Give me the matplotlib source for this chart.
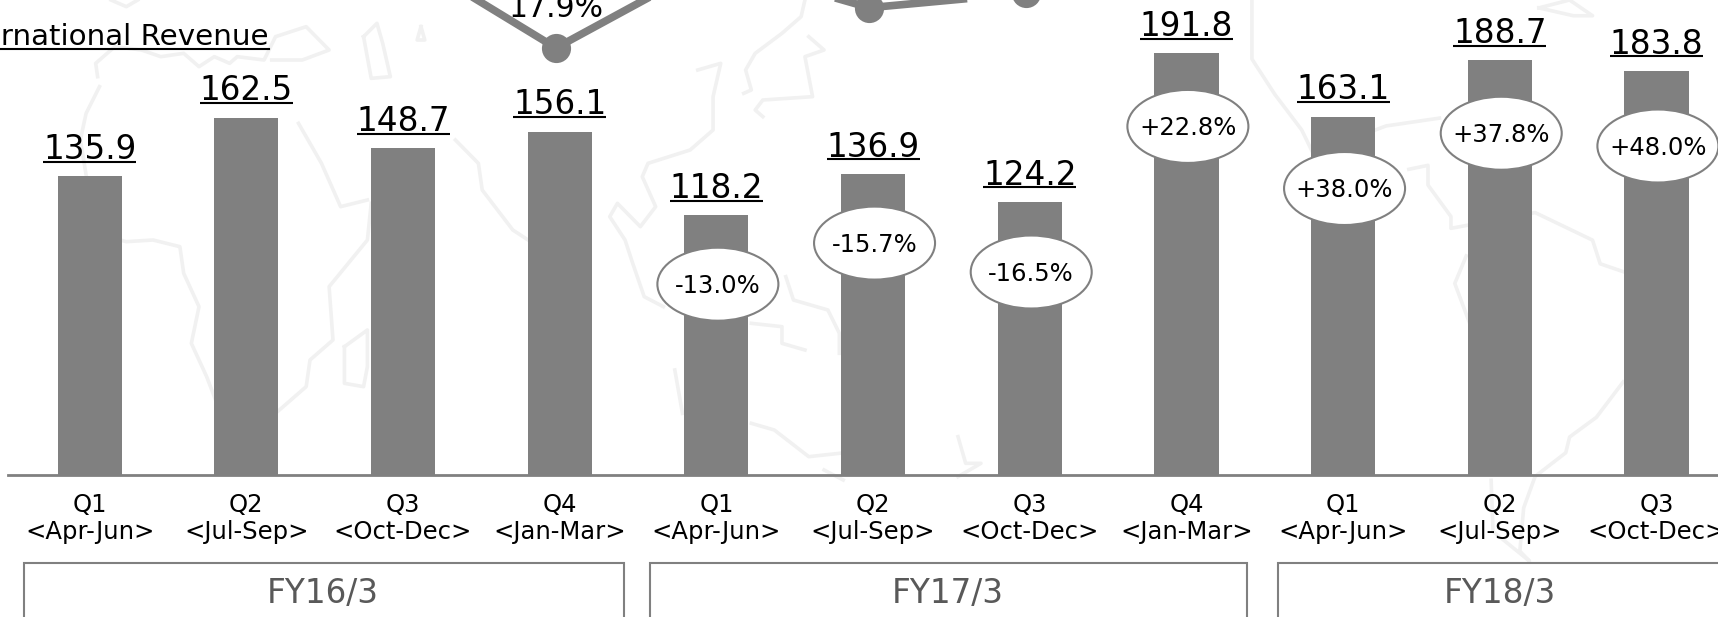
import matplotlib
matplotlib.use("Agg")
import matplotlib.pyplot as plt
from matplotlib.patches import Ellipse, Rectangle
from matplotlib.lines import Line2D

# chart data
quarters = ["Q1", "Q2", "Q3", "Q4", "Q1", "Q2", "Q3", "Q4", "Q1", "Q2", "Q3"]
months = ["<Apr-Jun>", "<Jul-Sep>", "<Oct-Dec>", "<Jan-Mar>",
          "<Apr-Jun>", "<Jul-Sep>", "<Oct-Dec>", "<Jan-Mar>",
          "<Apr-Jun>", "<Jul-Sep>", "<Oct-Dec>"]
revenue = [135.9, 162.5, 148.7, 156.1, 118.2, 136.9, 124.2, 191.8, 163.1, 188.7, 183.8]
yoy = [None, None, None, None, "-13.0%", "-15.7%", "-16.5%", "+22.8%", "+38.0%", "+37.8%", "+48.0%"]
# upper line series, most of it runs off the top of the picture
upper_line = [None, None, 237.7, 194.3, 233.0, 212.6, 219.2, None, None, None, None]
fiscal_years = ["FY16/3", "FY17/3", "FY18/3"]
title = "International Revenue"
line_label = "17.9%"

GREY = "#808080"
W, H = 1718, 617
BASE_Y = 475        # baseline, pixels from top
PX_X = 156.67       # pixels per bar step
PX_Y = 2.198        # pixels per revenue unit

# faint world map behind the chart, traced by eye from the crops
# each group has its own offset and scale: (x0, xscale, yscale, outlines)
map_west = (0, 2.613, 3.0, [
    [(290, 0), (330, 20), (360, 0)],
    [(255, 230), (250, 190), (300, 140), (370, 150), (420, 170), (480, 160), (520, 200), (560, 170),
     (600, 190), (620, 170), (690, 180), (720, 110), (800, 80), (860, 150), (790, 180), (710, 180)],
    [(260, 260), (225, 340), (210, 420), (230, 560), (250, 700), (330, 725), (400, 720), (470, 740),
     (480, 820), (520, 920), (500, 1030), (540, 1130), (570, 1220), (640, 1320), (730, 1230), (800, 1160),
     (810, 1080), (870, 1020), (860, 860), (910, 790), (960, 720), (970, 610)],
    [(780, 370), (840, 490), (890, 620), (960, 600)],
    [(900, 1040), (960, 990), (960, 1100), (950, 1160), (900, 1150), (900, 1040)],
    [(950, 110), (985, 70), (1000, 130), (1020, 230), (970, 235), (950, 110)],
    [(1100, 80), (1110, 120), (1090, 120), (1100, 80)],
    [(1190, 420), (1250, 490), (1260, 570), (1340, 690), (1380, 720)],
])
map_asia = (560, 2.613, 3.0, [
    [(640, 0), (630, 50), (580, 100), (510, 160), (485, 210), (500, 270), (480, 280)],
    [(360, 210), (420, 190), (400, 290), (400, 390), (340, 450), (230, 490), (215, 530), (250, 620),
     (210, 680), (150, 610), (130, 650), (170, 720), (190, 790), (220, 890), (270, 920)],
    [(650, 110), (690, 150), (640, 170), (660, 290), (530, 300), (510, 330), (530, 350)],
    [(590, 830), (610, 900), (700, 930), (730, 1000), (730, 1060)],
    [(500, 970), (580, 980), (580, 1030), (640, 1050)],
    [(300, 1110), (320, 1240)],
    [(500, 1270), (560, 1290), (650, 1370), (730, 1360)],
    [(1040, 1310), (1060, 1390), (1100, 1390), (1040, 1430)],
    [(690, 1410), (740, 1440)],
])
map_america = (1118, 2.613, 2.54, [
    [(350, 0), (350, 150), (410, 240), (480, 330), (510, 390), (700, 320), (840, 300)],
    [(760, 430), (810, 420), (810, 470), (870, 550), (870, 580), (1090, 540), (1240, 610), (1260, 670),
     (1320, 690)],
    [(910, 650), (880, 720), (930, 850), (1050, 970)],
    [(1320, 970), (1250, 1060), (1180, 1110), (1170, 1150), (1090, 1210), (1060, 1290), (1050, 1400),
     (1075, 1425), (980, 1350), (975, 1220)],
    [(1100, 20), (1180, 0), (1240, 40), (1190, 40), (1100, 20)],
])

fig = plt.figure(figsize=(W / 100, H / 100), dpi=100, facecolor="white")

for x0, sx, sy, outlines in [map_west, map_asia, map_america]:
    for pts in outlines:
        px = [(x0 + p[0] / sx) / W for p in pts]
        py = [(H - p[1] / sy) / H for p in pts]
        fig.add_artist(Line2D(px, py, transform=fig.transFigure, color="#f1f1f1", lw=2.6,
                              solid_joinstyle="round", zorder=-1))

ax = fig.add_axes([0, (H - BASE_Y) / H, 1, BASE_Y / H])
ax.set_xlim(-89.7 / PX_X, (W - 89.7) / PX_X)
ax.set_ylim(0, BASE_Y / PX_Y)
ax.patch.set_alpha(0)

xs = list(range(len(revenue)))
ax.bar(xs, revenue, width=0.41, color=GREY, zorder=2)

# line sits a bit left of the bar centres
line_y = [float("nan") if v is None else v for v in upper_line]
ax.plot([x - 0.024 for x in xs], line_y, color=GREY, lw=5.5, marker="o", ms=21,
        mec="none", zorder=3)
ax.annotate(line_label, (3 - 0.024, upper_line[3]), xytext=(0, 22.3), textcoords="offset points",
            ha="center", va="baseline", fontsize=21.5, color="black", zorder=4)

# value labels with underline
for x, v in zip(xs, revenue):
    ax.annotate(f"{v:.1f}", (x, v), xytext=(0, 12.6), textcoords="offset points",
                ha="center", va="baseline", fontsize=23.5, color="black", zorder=4)
    ax.plot([x - 46.5 / PX_X, x + 46.5 / PX_X], [v + 14.6 / PX_Y] * 2, color="black", lw=1.5,
            solid_capstyle="butt", zorder=4)

# growth ellipses, dropped below the bar top
ell_drop = {4: 69, 5: 69, 6: 70, 7: 73, 8: 72, 9: 73, 10: 75}
for x, lab in zip(xs, yoy):
    if lab is None:
        continue
    cx = x + 1.5 / PX_X
    cy = revenue[x] - ell_drop[x] / PX_Y
    ax.add_patch(Ellipse((cx, cy), 121 / PX_X, 73 / PX_Y, fc="white", ec=GREY, lw=1.5, zorder=5))
    ax.text(cx, cy + 1 / PX_Y, lab, ha="center", va="center_baseline", fontsize=17.5, color="black", zorder=6)

ax.set_xticks(xs)
ax.set_xticklabels([q + "\n" + m for q, m in zip(quarters, months)], fontsize=17.5,
                   linespacing=1.17, color="black")
ax.tick_params(axis="x", length=0, pad=13)
ax.set_yticks([])
for s in ["top", "left", "right"]:
    ax.spines[s].set_visible(False)
ax.spines["bottom"].set_color(GREY)
ax.spines["bottom"].set_linewidth(2)
ax.spines["bottom"].set_bounds(-81.7 / PX_X, (W - 89.7) / PX_X)

# fiscal year boxes
box_spans = [(24, 624), (650, 1247), (1278, 1723)]
for (x0, x1), lab in zip(box_spans, fiscal_years):
    fig.add_artist(Rectangle((x0 / W, -10 / H), (x1 - x0) / W, (H - 563 + 10) / H, transform=fig.transFigure,
                             fc="none", ec=GREY, lw=1.5))
    fig.text((x0 + x1) / 2 / W - 1 / W, (H - 603) / H, lab, ha="center", va="baseline", fontsize=23.5, color="#595959")

# section title, cut by the left edge like the source
fig.text(269 / W, (H - 45) / H, title, ha="right", va="baseline", fontsize=21.2, color="black")
fig.add_artist(Line2D([0, 269 / W], [(H - 49.3) / H] * 2, transform=fig.transFigure, color="black", lw=1.5))

fig.savefig("out.png", dpi=100)
